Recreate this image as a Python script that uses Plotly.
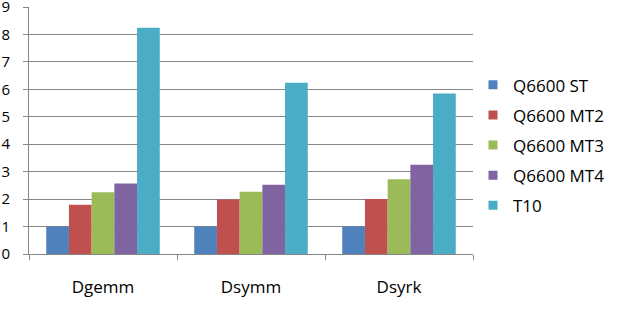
import plotly.graph_objects as go

categories = ["Dgemm", "Dsymm", "Dsyrk"]
series_names = ["Q6600 ST", "Q6600 MT2", "Q6600 MT3", "Q6600 MT4", "T10"]
q6600_st = [1.0, 1.0, 1.0]
q6600_mt2 = [1.79, 1.99, 2.0]
q6600_mt3 = [2.25, 2.27, 2.72]
q6600_mt4 = [2.57, 2.52, 3.25]
t10 = [8.24, 6.24, 5.85]
colors = ["#4F81BD", "#C0504D", "#9BBB59", "#8064A2", "#4BACC6"]
y_ticks = list(range(0, 10))

values = [q6600_st, q6600_mt2, q6600_mt3, q6600_mt4, t10]

fig = go.Figure()
for i, (name, vals) in enumerate(zip(series_names, values)):
    fig.add_trace(go.Bar(
        x=categories, y=vals, name=name, legendgroup=name, showlegend=False,
        marker=dict(color=colors[i], line=dict(width=0)),
    ))
# legend entries with small square swatches
for i, name in enumerate(series_names):
    fig.add_trace(go.Scatter(
        x=[None], y=[None], mode="markers", name=name, legendgroup=name,
        marker=dict(symbol="square", size=9, color=colors[i]),
    ))

font = "Open Sans, sans-serif"
fig.update_layout(
    width=620, height=314,
    margin=dict(l=29, r=147, t=7, b=60, autoexpand=False),
    paper_bgcolor="white", plot_bgcolor="white",
    barmode="group", bargap=0.233, bargroupgap=0,
    font=dict(family=font, size=17, color="black"),
    showlegend=True,
    legend=dict(
        x=1.0, xanchor="left", y=0.44, yanchor="middle",
        font=dict(family=font, size=17, color="black"),
        tracegroupgap=5, itemwidth=30,
        bgcolor="rgba(0,0,0,0)",
    ),
    xaxis=dict(
        showline=True, linecolor="#868686", linewidth=1,
        ticks="outside", tickson="boundaries", ticklen=5, tickcolor="#868686",
        showgrid=False, tickfont=dict(size=17), ticklabelstandoff=18,
        automargin=False,
    ),
    yaxis=dict(
        range=[0, 9], tickvals=y_ticks, showline=True, linecolor="#868686", linewidth=1,
        ticks="outside", ticklen=5, tickcolor="#868686",
        showgrid=True, gridcolor="#868686", gridwidth=1,
        zeroline=False, tickfont=dict(size=15), ticklabelstandoff=10,
        ticklabeloverflow="allow", automargin=False,
    ),
)

fig.write_html("out.html")
